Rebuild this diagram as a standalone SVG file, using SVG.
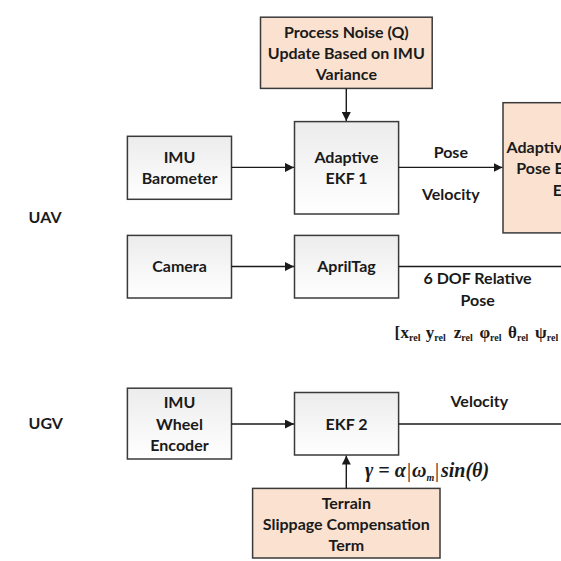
<svg xmlns="http://www.w3.org/2000/svg" width="561" height="561" viewBox="0 0 561 561">
<style>
.box{fill:url(#g);stroke:#3a3a3a;stroke-width:1.5}
.pk{fill:#FBE2D0;stroke:#3a3a3a;stroke-width:1.5}
text{font-family:Lato,"Open Sans","Liberation Sans",sans-serif;font-weight:bold;font-size:16px;fill:#1a1a1a}
.c{text-anchor:middle}
text.m{font-family:"Liberation Serif","Times New Roman",serif;font-weight:bold}
text.v{font-size:17px}
text.f{font-size:20px;font-style:italic}
tspan.sub{font-size:10px}
tspan.n{font-style:normal;font-weight:normal}
.ln{stroke:#1a1a1a;stroke-width:1.4;fill:none}
</style>
<defs>
<linearGradient id="g" x1="0" y1="0" x2="0" y2="1">
<stop offset="0" stop-color="#ececec"/>
<stop offset="1" stop-color="#ffffff"/>
</linearGradient>
<marker id="a" viewBox="0 0 10 10" refX="10" refY="5" markerWidth="9" markerHeight="9" markerUnits="userSpaceOnUse" orient="auto">
<path d="M0,0 L10,5 L0,10 z" fill="#1a1a1a"/>
</marker>
</defs>
<rect width="561" height="561" fill="#ffffff"/>

<g id="labels">
<text x="28.6" y="223">UAV</text>
<text x="28.6" y="429">UGV</text>
</g>

<g id="process-noise">
<rect class="pk" x="260.5" y="17.2" width="171.7" height="71.2"/>
<text class="c" x="346.3" y="38">Process Noise (Q)</text>
<text class="c" x="346.3" y="59">Update Based on IMU</text>
<text class="c" x="346.3" y="80">Variance</text>
</g>

<g id="imu-baro">
<rect class="box" x="127.4" y="136.3" width="104.1" height="63"/>
<text class="c" x="179.5" y="163.2">IMU</text>
<text class="c" x="179.5" y="184">Barometer</text>
</g>

<g id="ekf1">
<rect class="box" x="294.5" y="121.6" width="104.1" height="92.4"/>
<text class="c" x="346.5" y="163.2">Adaptive</text>
<text class="c" x="346.5" y="184">EKF 1</text>
</g>

<g id="pose-estimator">
<rect class="pk" x="503" y="102.7" width="80" height="130.2"/>
<text x="506.6" y="152.5">Adaptiv</text>
<text x="516.3" y="174">Pose E</text>
<text x="552.8" y="195.5">E</text>
</g>

<g id="camera">
<rect class="box" x="127.4" y="235.4" width="104.1" height="62.6"/>
<text class="c" x="179.5" y="272.3">Camera</text>
</g>

<g id="apriltag">
<rect class="box" x="294.5" y="235.4" width="104.1" height="62.6"/>
<text class="c" x="346.5" y="272.3">AprilTag</text>
</g>

<g id="imu-wheel">
<rect class="box" x="127.4" y="388.2" width="104.1" height="70.8"/>
<text class="c" x="179.5" y="408.3">IMU</text>
<text class="c" x="179.5" y="429.8">Wheel</text>
<text class="c" x="179.5" y="450.8">Encoder</text>
</g>

<g id="ekf2">
<rect class="box" x="294.5" y="392.5" width="104.1" height="62.5"/>
<text class="c" x="346.5" y="429.8">EKF 2</text>
</g>

<g id="terrain">
<rect class="pk" x="252.6" y="488.4" width="187.4" height="69.6"/>
<text class="c" x="346.3" y="508.5">Terrain</text>
<text class="c" x="346.3" y="529.9">Slippage Compensation</text>
<text class="c" x="346.3" y="551.4">Term</text>
</g>

<g id="connectors">
<line class="ln" x1="346.3" y1="88.4" x2="346.3" y2="121" marker-end="url(#a)"/>
<line class="ln" x1="231.5" y1="167.4" x2="294" y2="167.4" marker-end="url(#a)"/>
<line class="ln" x1="398.6" y1="167.4" x2="502.5" y2="167.4" marker-end="url(#a)"/>
<line class="ln" x1="231.5" y1="266.5" x2="294" y2="266.5" marker-end="url(#a)"/>
<line class="ln" x1="398.6" y1="266.5" x2="561" y2="266.5"/>
<line class="ln" x1="231.5" y1="424" x2="294" y2="424" marker-end="url(#a)"/>
<line class="ln" x1="398.6" y1="424" x2="561" y2="424"/>
<line class="ln" x1="346.3" y1="488.4" x2="346.3" y2="455.6" marker-end="url(#a)"/>
<text class="c" x="450.8" y="157.8">Pose</text>
<text class="c" x="450.8" y="199.8">Velocity</text>
<text class="c" x="477.6" y="284.2">6 DOF Relative</text>
<text class="c" x="477.6" y="305.6">Pose</text>
<text class="c" x="479.4" y="407.2">Velocity</text>
<text class="m v" y="338"><tspan x="394.6">[</tspan><tspan x="400.5">x</tspan><tspan class="sub" dy="3">rel</tspan><tspan x="425.8" dy="-3">y</tspan><tspan class="sub" dy="3">rel</tspan><tspan x="453.7" dy="-3">z</tspan><tspan class="sub" dy="3">rel</tspan><tspan x="479.4" dy="-3">φ</tspan><tspan class="sub" dy="3">rel</tspan><tspan x="508" dy="-3">θ</tspan><tspan class="sub" dy="3">rel</tspan><tspan x="535" dy="-3">ψ</tspan><tspan class="sub" dy="3">rel</tspan></text>
<text class="m f" y="477"><tspan x="365">γ = α</tspan><tspan class="n" x="407">|</tspan><tspan x="412">ω</tspan><tspan class="sub" dy="4">m</tspan><tspan class="n" x="435" dy="-4">|</tspan><tspan x="441">sin(θ)</tspan></text>
</g>
</svg>
